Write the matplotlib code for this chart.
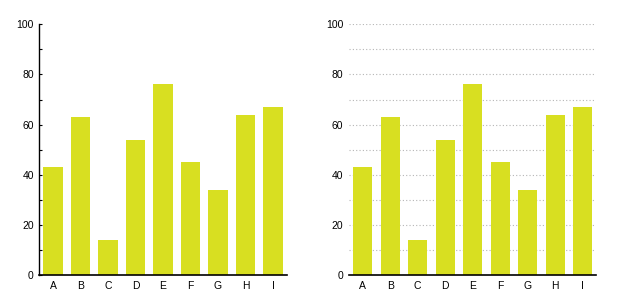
import matplotlib
matplotlib.use("Agg")
import matplotlib.pyplot as plt
import numpy as np
from matplotlib.ticker import MultipleLocator

plt.rcParams['font.family'] = ['Liberation Sans', 'DejaVu Sans']
plt.rcParams['font.size'] = 7.5

categories = ['A', 'B', 'C', 'D', 'E', 'F', 'G', 'H', 'I']
values = [43, 63, 14, 54, 76, 45, 34, 64, 67]
bar_color = '#d8df21'


def plot_bars(ax):
    x = np.arange(len(categories))
    ax.bar(x, values, 0.7, color=bar_color, zorder=2)
    ax.set_xticks(x)
    ax.set_xticklabels(categories)
    ax.set_xlim(-0.5, len(categories) - 0.5)
    ax.set_ylim(0, 100)
    ax.yaxis.set_major_locator(MultipleLocator(20))
    ax.yaxis.set_minor_locator(MultipleLocator(10))
    ax.tick_params(axis='x', length=0, pad=4)
    for s in ['top', 'right']:
        ax.spines[s].set_visible(False)
    ax.spines['bottom'].set_linewidth(1.2)


fig = plt.figure(figsize=(6.26, 3.04), dpi=100)

ax1 = fig.add_axes([0.0628, 0.0954, 0.3952, 0.8247])
plot_bars(ax1)
ax1.spines['left'].set_linewidth(1.0)
ax1.tick_params(axis='y', which='both', direction='in', length=2.5, width=0.8, pad=4)

ax2 = fig.add_axes([0.5575, 0.0954, 0.3952, 0.8247])
plot_bars(ax2)
ax2.spines['left'].set_visible(False)
ax2.tick_params(axis='y', which='both', length=0, pad=4)
ax2.grid(axis='y', which='both', color='#b5b5b5', linestyle=(0, (1, 2)), linewidth=0.8, zorder=0)
ax2.set_axisbelow(True)

fig.savefig('out.png', dpi=100)
